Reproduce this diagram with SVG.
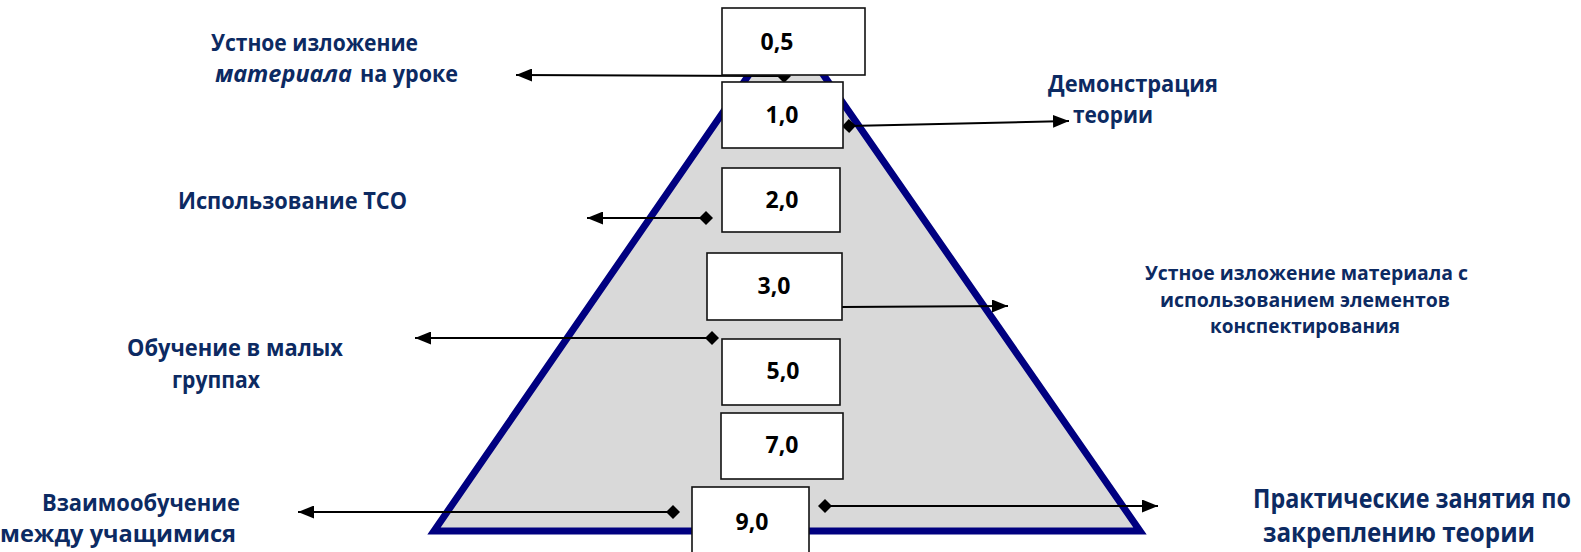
<svg xmlns="http://www.w3.org/2000/svg" width="1581" height="552" viewBox="0 0 1581 552">
<style>
.lbl{font-family:"Open Sans","Liberation Sans",sans-serif;font-weight:bold;fill:#0c2a62;font-size:24px}
.sm{font-size:20px}
.lg{font-size:26px}
.num{font-family:"Open Sans","Liberation Sans",sans-serif;font-weight:bold;fill:#000;font-size:23px;text-anchor:middle}
.box{fill:#fff;stroke:#111;stroke-width:1.6}
.con{stroke:#000;stroke-width:2;fill:none}
</style>
<defs>
<marker id="arr" markerUnits="userSpaceOnUse" markerWidth="17" markerHeight="13" refX="16" refY="6.5" orient="auto">
<path d="M0,0 L16,6.5 L0,13 Z" fill="#000"/>
</marker>
<marker id="dia" markerUnits="userSpaceOnUse" markerWidth="14" markerHeight="14" refX="7" refY="7" orient="auto">
<path d="M7,0 L14,7 L7,14 L0,7 Z" fill="#000"/>
</marker>
</defs>
<g id="pyramid">
<polygon points="786,21 434,531 1140,531" fill="#d9d9d9" stroke="#000080" stroke-width="7" stroke-linejoin="miter"/>
</g>
<g id="connectors">
<line class="con" x1="784" y1="76" x2="516" y2="75" marker-start="url(#dia)" marker-end="url(#arr)"/>
<line class="con" x1="849" y1="126" x2="1069" y2="121" marker-start="url(#dia)" marker-end="url(#arr)"/>
<line class="con" x1="706" y1="218" x2="587" y2="218" marker-start="url(#dia)" marker-end="url(#arr)"/>
<line class="con" x1="842" y1="307" x2="1008" y2="306" marker-end="url(#arr)"/>
<line class="con" x1="712" y1="338" x2="415" y2="338" marker-start="url(#dia)" marker-end="url(#arr)"/>
<line class="con" x1="673" y1="512" x2="298" y2="512" marker-start="url(#dia)" marker-end="url(#arr)"/>
<line class="con" x1="825" y1="506" x2="1158" y2="506" marker-start="url(#dia)" marker-end="url(#arr)"/>
</g>
<g id="n05"><rect class="box" x="722" y="8" width="143" height="67"/><text class="num" x="777" y="50">0,5</text></g>
<g id="n10"><rect class="box" x="722" y="82" width="121" height="66"/><text class="num" x="782" y="123">1,0</text></g>
<g id="n20"><rect class="box" x="722" y="168" width="118" height="64"/><text class="num" x="782" y="208">2,0</text></g>
<g id="n30"><rect class="box" x="707" y="253" width="135" height="67"/><text class="num" x="774" y="294">3,0</text></g>
<g id="n50"><rect class="box" x="722" y="339" width="118" height="66"/><text class="num" x="783" y="379">5,0</text></g>
<g id="n70"><rect class="box" x="721" y="413" width="122" height="66"/><text class="num" x="782" y="453">7,0</text></g>
<g id="n90"><rect class="box" x="692" y="487" width="117" height="66"/><text class="num" x="752" y="530">9,0</text></g>
<g id="l1">
<text class="lbl" x="211" y="51" textLength="207" lengthAdjust="spacingAndGlyphs">Устное изложение</text>
<text class="lbl" x="215" y="82" textLength="137" lengthAdjust="spacingAndGlyphs" font-style="italic">материала</text>
<text class="lbl" x="360" y="82" textLength="98" lengthAdjust="spacingAndGlyphs">на уроке</text>
</g>
<g id="l2">
<text class="lbl" x="1048" y="92" textLength="170" lengthAdjust="spacingAndGlyphs">Демонстрация</text>
<text class="lbl" x="1073" y="123" textLength="80" lengthAdjust="spacingAndGlyphs">теории</text>
</g>
<g id="l3">
<text class="lbl" x="178" y="209" textLength="229" lengthAdjust="spacingAndGlyphs">Использование ТСО</text>
</g>
<g id="l4">
<text class="lbl sm" x="1145" y="280" textLength="323" lengthAdjust="spacingAndGlyphs">Устное изложение материала с</text>
<text class="lbl sm" x="1160" y="307" textLength="290" lengthAdjust="spacingAndGlyphs">использованием элементов</text>
<text class="lbl sm" x="1210" y="333" textLength="190" lengthAdjust="spacingAndGlyphs">конспектирования</text>
</g>
<g id="l5">
<text class="lbl" x="127" y="356" textLength="216" lengthAdjust="spacingAndGlyphs">Обучение в малых</text>
<text class="lbl" x="172" y="388" textLength="88" lengthAdjust="spacingAndGlyphs">группах</text>
</g>
<g id="l6">
<text class="lbl" x="42" y="511" textLength="198" lengthAdjust="spacingAndGlyphs">Взаимообучение</text>
<text class="lbl" x="0" y="542" textLength="236" lengthAdjust="spacingAndGlyphs">между учащимися</text>
</g>
<g id="l7">
<text class="lbl lg" x="1253" y="508" textLength="318" lengthAdjust="spacingAndGlyphs">Практические занятия по</text>
<text class="lbl lg" x="1263" y="542" textLength="272" lengthAdjust="spacingAndGlyphs">закреплению теории</text>
</g>
</svg>
